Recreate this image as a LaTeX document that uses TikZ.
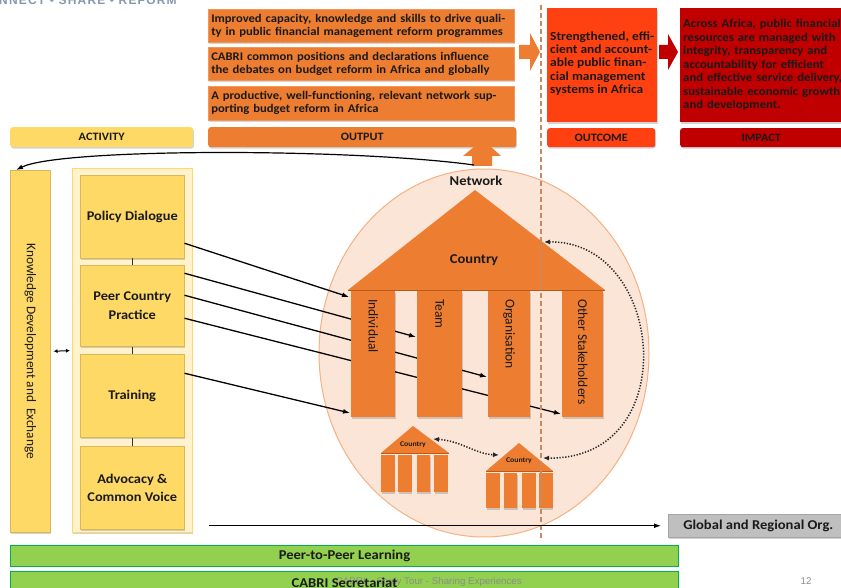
\documentclass[tikz,border=0pt]{standalone}
\usepackage{fontspec}
\setmainfont{Carlito}[FakeStretch=1.08]
\newfontfamily\vertfont{Carlito}
\newfontfamily\footfont{Liberation Sans}
\newfontfamily\hdrfont[LetterSpace=10]{Liberation Sans}
\usetikzlibrary{shapes.geometric,shadows,arrows.meta,calc}
\definecolor{outorange}{HTML}{ED7D31}
\definecolor{outcred}{HTML}{FF4010}
\definecolor{impred}{HTML}{C00000}
\definecolor{actyel}{HTML}{FFD966}
\definecolor{actpale}{HTML}{FFF2CC}
\definecolor{peach}{HTML}{FBE5D6}
\definecolor{peachline}{HTML}{F4B183}
\definecolor{dashc}{HTML}{C98A62}
\definecolor{greenbar}{HTML}{92D050}
\definecolor{greenline}{HTML}{00B050}
\definecolor{greybox}{HTML}{BFBFBF}
\definecolor{footc}{HTML}{8C8C8C}
\definecolor{hdrc}{HTML}{8497B0}
\definecolor{txtdark}{HTML}{1A1A1A}
\definecolor{roofline}{HTML}{B85A1E}
\tikzset{
 shad/.style={drop shadow={shadow xshift=0.7pt,shadow yshift=-1.4pt,opacity=0.35}},
 outbox/.style={shad, fill=outorange, draw=outorange!80!white, line width=0.5pt, anchor=north west,
   minimum width=306pt, minimum height=33pt, text width=300pt, align=left, inner sep=3pt,
   font=\fontsize{11.7}{13}\selectfont\bfseries, text=txtdark},
 barlbl/.style={shad, rounded corners=2.5pt, anchor=north west, minimum height=20pt, inner sep=0pt,
   font=\fontsize{11.3}{12}\selectfont\bfseries, text=txtdark},
 actbox/.style={shad, fill=actyel, draw=actyel!85!black, line width=0.5pt, anchor=north west,
   minimum width=104pt, minimum height=83pt, inner sep=2pt, align=center,
   font=\fontsize{13.3}{19}\selectfont\bfseries, text=txtdark},
 colbox/.style={shad, fill=outorange, anchor=north west, minimum height=126pt, inner sep=0pt},
 coltxt/.style={rotate=-90, anchor=west, inner sep=0pt, font=\vertfont\fontsize{13.5}{14}\selectfont, text=txtdark},
 minicol/.style={shad, fill=outorange, anchor=north west, inner sep=0pt, minimum width=13.5pt},
 minitxt/.style={font=\fontsize{7.2}{7.2}\selectfont\bfseries, text=txtdark, inner sep=0pt},
 bigtxt/.style={font=\fontsize{13.5}{14}\selectfont\bfseries, text=txtdark, inner sep=0pt},
 arr/.style={-{Latex[length=7pt,width=5pt]}, line width=1.3pt, black},
 dotarr/.style={{Latex[length=6pt,width=5pt]}-{Latex[length=6pt,width=5pt]}, line width=1.5pt,
   dash pattern=on 1.3pt off 1.6pt, black!85},
 greenbox/.style={fill=greenbar, draw=greenline, line width=1pt, anchor=north west, minimum width=668pt,
   inner sep=0pt, font=\fontsize{13.5}{14}\selectfont\bfseries, text=txtdark},
 foottxt/.style={font=\footfont\fontsize{9.75}{10}\selectfont, text=footc, inner sep=0pt}
}
\begin{document}
\begin{tikzpicture}[x=1pt,y=-1pt]
\useasboundingbox (0,0) rectangle (841,588);
\clip (0,0) rectangle (841,588);

% header
\node[anchor=base west, inner sep=0pt, font=\hdrfont\bfseries\fontsize{12}{12}\selectfont, text=hdrc] (hdr) at (-1,5) {NNECT • SHARE • REFORM};

% output boxes
\node[outbox] (ob1) at (208,9) {Improved capacity, knowledge and skills to drive quali-\\ty in public financial management reform programmes};
\node[outbox] (ob2) at (208,47) {CABRI common positions and declarations influence\\the debates on budget reform in Africa and globally};
\node[outbox, minimum height=34pt] (ob3) at (208,86) {A productive, well-functioning, relevant network sup-\\porting budget reform in Africa};
\node[barlbl, fill=outorange, minimum width=308pt] (outlbl) at (208,127) {OUTPUT};

% arrows between columns
\fill[outorange] (519,45) -- (530,45) -- (530,33) -- (540,52) -- (530,71) -- (530,59) -- (519,59) -- cycle;
\fill[impred] (659,45) -- (668,45) -- (668,34) -- (678,52) -- (668,70) -- (668,59) -- (659,59) -- cycle;

% outcome
\node[shad, fill=outcred, anchor=north west, minimum width=110pt, minimum height=114pt, inner sep=0pt] (outc) at (547,8) {};
\node[anchor=west, align=left, inner sep=0pt, font=\fontsize{12.4}{13.25}\selectfont\bfseries, text=txtdark] (outctxt) at (550,63.5)
  {Strengthened, effi-\\cient and account-\\able public finan-\\cial management\\systems in Africa};
\node[barlbl, fill=outcred, minimum width=108pt, minimum height=19pt] (outclbl) at (547,128) {OUTCOME};

% impact
\node[shad, fill=impred, anchor=north west, minimum width=216pt, minimum height=114pt, text width=210pt, inner sep=3pt,
  align=left, font=\fontsize{11.8}{13.5}\selectfont\bfseries, text=txtdark] (imp) at (680,8)
  {Across Africa, public financial\\resources are managed with\\integrity, transparency and\\accountability for efficient\\and effective service delivery,\\sustainable economic growth\\and development.};
\node[barlbl, fill=impred, minimum width=176pt, minimum height=19pt] (implbl) at (680,128) {\hspace*{-14pt}IMPACT};

% activity label
\node[barlbl, fill=actyel, minimum width=183pt] (actlbl) at (10,127) {ACTIVITY};

% big circle
\node[ellipse, fill=peach, draw=peachline, line width=1pt, minimum width=330pt, minimum height=368pt, inner sep=0pt] (net) at (484,353) {};
\node[bigtxt] (nettxt) at (476,181) {Network};

% up arrow
\fill[outorange] (475,146) -- (490,146) -- (501,156) -- (492,156) -- (492,166) -- (472,166) -- (472,156) -- (463,156) -- cycle;
\coordinate (netup) at (474,165);

% activity panel
\node[shad, fill=actyel, draw=actyel!85!black, line width=0.5pt, anchor=north west, minimum width=40pt, minimum height=362pt, inner sep=0pt] (know) at (10,170) {};
\node[rotate=-90, font=\vertfont\fontsize{13.3}{14}\selectfont, text=txtdark, inner sep=0pt] (knowtxt) at (know.center) {Knowledge Development and\ \ Exchange};
\node[shad, fill=actpale, draw=actyel, line width=1.2pt, anchor=north west, minimum width=120pt, minimum height=364pt, inner sep=0pt] (panel) at (72,168) {};
\node[actbox] (pd) at (80,175) {Policy Dialogue};
\node[actbox, minimum height=81pt] (pcp) at (80,265) {Peer Country\\Practice};
\node[actbox] (tr) at (80,354) {Training};
\node[actbox, minimum height=83pt, font=\fontsize{13.3}{18}\selectfont\bfseries] (adv) at (80,446) {Advocacy \&\\Common Voice};
\draw[black!80, line width=0.8pt] (pd.south) -- (pcp.north);
\draw[black!80, line width=0.8pt] (pcp.south) -- (tr.north);
\draw[black!80, line width=0.8pt] (tr.south) -- (adv.north);
\draw[{Latex[length=4pt,width=4pt]}-{Latex[length=4pt,width=4pt]}, line width=1pt] ([xshift=3pt]know.east) -- ([xshift=-2pt]panel.west);

% curved arrow to knowledge bar
\draw[arr, line width=1.2pt] (netup) .. controls (350,148) and (60,148) .. ([xshift=6pt]know.north west);

% temple columns (nodes first for anchors)
\path (351,291) node[colbox, minimum width=44pt] (col1) {};
\path (417,291) node[colbox, minimum width=45pt] (col2) {};
\path (488,291) node[colbox, minimum width=42pt] (col3) {};
\path (562,291) node[colbox, minimum width=41pt] (col4) {};

% arrows from activities (columns are filled again on top)
\draw[arr] ([yshift=-26.5pt]pd.east) -- ([xshift=-2pt,yshift=-6pt]col1.north west);
\draw[arr] ([yshift=32.5pt]pcp.east) -- ([xshift=-1pt,yshift=-46pt]col2.north west);
\draw[arr] ([yshift=10.5pt]pcp.east) -- ([xshift=-1pt,yshift=-86pt]col3.north west);
\draw[arr] ([yshift=-12.5pt]pcp.east) -- ([xshift=-1pt,yshift=-123pt]col4.north west);
\draw[arr] ([yshift=22.5pt]tr.east) -- ([xshift=-1pt,yshift=-122pt]col1.north west);

% roof
\fill[outorange] (475,190) -- (605,290) -- (348,290) -- cycle;
\draw[roofline, line width=1.2pt] (348,290.5) -- (605,290.5);
\node[bigtxt] (ctry) at (474,260) {Country};
\fill[outorange] (col1.north west) rectangle (col1.south east);
\fill[outorange] (col2.north west) rectangle (col2.south east);
\fill[outorange] (col3.north west) rectangle (col3.south east);
\fill[outorange] (col4.north west) rectangle (col4.south east);
\node[coltxt] (c1t) at ([yshift=-8pt]col1.north) {Individual};
\node[coltxt] (c2t) at ([yshift=-8pt]col2.north) {Team};
\node[coltxt] (c3t) at ([yshift=-8pt]col3.north) {Organisation};
\node[coltxt] (c4t) at ([yshift=-8pt]col4.north) {Other Stakeholders};

% small temples
\fill[outorange] (413,426) -- (449,453) -- (381,453) -- cycle;
\draw[roofline, line width=0.8pt] (381,453.5) -- (449,453.5);
\node[minitxt] (cl) at (413,445) {Country};
\node[minicol, minimum height=37pt] (sl1) at (381,455) {};
\node[minicol, minimum height=37pt] (sl2) at (398,455) {};
\node[minicol, minimum height=37pt] (sl3) at (416.5,455) {};
\node[minicol, minimum height=37pt] (sl4) at (434,455) {};

\fill[outorange] (519,443) -- (553,471) -- (486,471) -- cycle;
\draw[roofline, line width=0.8pt] (486,471.5) -- (553,471.5);
\node[minitxt] (cr) at (519,461) {Country};
\node[minicol, minimum height=35pt] (sr1) at (486,473) {};
\node[minicol, minimum height=35pt] (sr2) at (503.5,473) {};
\node[minicol, minimum height=35pt] (sr3) at (522,473) {};
\node[minicol, minimum height=35pt] (sr4) at (539,473) {};

% dotted arrows
\coordinate (lroofR) at (433,439);
\coordinate (rroofL) at (499,455);
\coordinate (bigroofR) at (544,242);
\coordinate (rroofR) at (543,458);
\draw[dotarr] (lroofR) .. controls (462,441) and (475,454) .. (rroofL);
\draw[dotarr] (bigroofR) .. controls (665,240) and (685,460) .. (rroofR);

% dashed divider
\draw[dashc, line width=1.6pt, dash pattern=on 5pt off 3pt] (541,5) -- (541,540);

% global box and bottom arrow
\node[shad, fill=greybox, draw=black!35, line width=0.5pt, anchor=north west, minimum width=180pt, minimum height=23pt, inner sep=0pt,
  font=\fontsize{13.5}{14}\selectfont\bfseries, text=txtdark] (glob) at (668,514) {Global and Regional Org.};
\draw[arr, line width=1.2pt] ([xshift=16pt]panel.east |- glob.west) -- ([xshift=-7pt]glob.west);

% green bars
\node[greenbox, minimum height=21pt] (p2p) at (10,545) {Peer-to-Peer Learning};
\node[greenbox, minimum height=22pt] (sec) at (10,571) {};
\node[foottxt, anchor=east] (foot) at (522,582) {CABRI – Study Tour - Sharing Experiences};
\node[font=\fontsize{13.5}{14}\selectfont\bfseries, text=txtdark, inner sep=0pt] (sectxt) at (sec.center) {CABRI Secretariat};
\node[foottxt] (pgno) at (806,581) {12};
\end{tikzpicture}
\end{document}
